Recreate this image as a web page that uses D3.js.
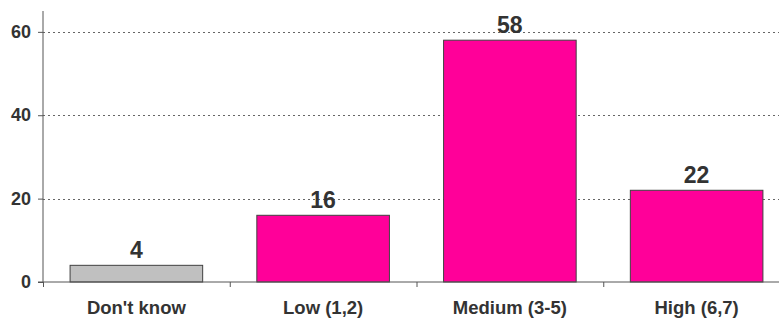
<!DOCTYPE html>
<html>
<head>
<meta charset="utf-8">
<script src="https://cdn.jsdelivr.net/npm/d3@7"></script>
<style>
body { margin: 0; background: #fff; }
text { font-family: "Liberation Sans", Arial, sans-serif; font-weight: bold; fill: #333; }
</style>
</head>
<body>
<div id="chart"></div>
<script>
// Data
var categories = ["Don't know", "Low (1,2)", "Medium (3-5)", "High (6,7)"];
var values = [4, 16, 58, 22];
var barColors = ["#c0c0c0", "#ff0099", "#ff0099", "#ff0099"];
var yTicks = [0, 20, 40, 60];

var svgWidth = 779;
var svgHeight = 320;
var margin = { top: 11, right: -11, bottom: 38, left: 43 };
var width = svgWidth - margin.left - margin.right;
var height = svgHeight - margin.top - margin.bottom;

var svg = d3.select('#chart')
    .append('svg')
    .attr('width', svgWidth)
    .attr('height', svgHeight);
var chartGroup = svg.append('g')
    .attr('transform', `translate(${margin.left}, ${margin.top})`);

var xScale = d3.scaleBand()
    .domain(categories)
    .range([0, width])
    .paddingInner(0.29)
    .paddingOuter(0.145);

var yScale = d3.scaleLinear()
    .domain([0, 65])
    .range([height, 0]);

// Gridlines
chartGroup.append('g').selectAll('line')
    .data(yTicks.filter(d => d > 0))
    .enter()
    .append('line')
    .attr('x1', 0)
    .attr('x2', width)
    .attr('y1', d => Math.round(yScale(d)) + 0.5)
    .attr('y2', d => Math.round(yScale(d)) + 0.5)
    .attr('stroke', '#666')
    .attr('stroke-width', 1)
    .attr('stroke-dasharray', '2,3');

// Bars
chartGroup.append('g').selectAll('rect')
    .data(values)
    .enter()
    .append('rect')
    .attr('x', (d, i) => xScale(categories[i]))
    .attr('y', d => yScale(d))
    .attr('width', xScale.bandwidth())
    .attr('height', d => height - yScale(d))
    .attr('fill', (d, i) => barColors[i])
    .attr('stroke', '#404040')
    .attr('stroke-width', 1);

// Value labels
chartGroup.append('g').selectAll('text')
    .data(values)
    .enter()
    .append('text')
    .attr('x', (d, i) => xScale(categories[i]) + xScale.bandwidth() / 2)
    .attr('y', d => yScale(d) - 7)
    .attr('text-anchor', 'middle')
    .attr('font-size', 23)
    .text(d => d);

// Y axis
var yAxis = chartGroup.append('g')
    .call(d3.axisLeft(yScale).tickValues(yTicks).tickSize(5).tickPadding(7));
yAxis.select('.domain').attr('stroke', '#555').attr('d', `M0,0V${height}`);
yAxis.selectAll('.tick line').attr('stroke', '#555');
yAxis.selectAll('.tick text').attr('font-size', 18).attr('fill', '#333').attr('font-family', null);

// X axis
var xAxis = chartGroup.append('g')
    .attr('transform', `translate(0, ${height})`)
    .call(d3.axisBottom(xScale).tickSize(0).tickPadding(19));
xAxis.select('.domain').attr('stroke', '#555').attr('d', `M-5,0H${width}`);
xAxis.selectAll('.tick text').attr('font-size', 18.5).attr('fill', '#333').attr('font-family', null);

// x tick marks between categories
var step = xScale.step();
chartGroup.append('g').selectAll('line')
    .data(categories)
    .enter()
    .append('line')
    .attr('x1', (d, i) => i * step + 0.5)
    .attr('x2', (d, i) => i * step + 0.5)
    .attr('y1', height)
    .attr('y2', height + 5)
    .attr('stroke', '#555');
</script>
</body>
</html>
